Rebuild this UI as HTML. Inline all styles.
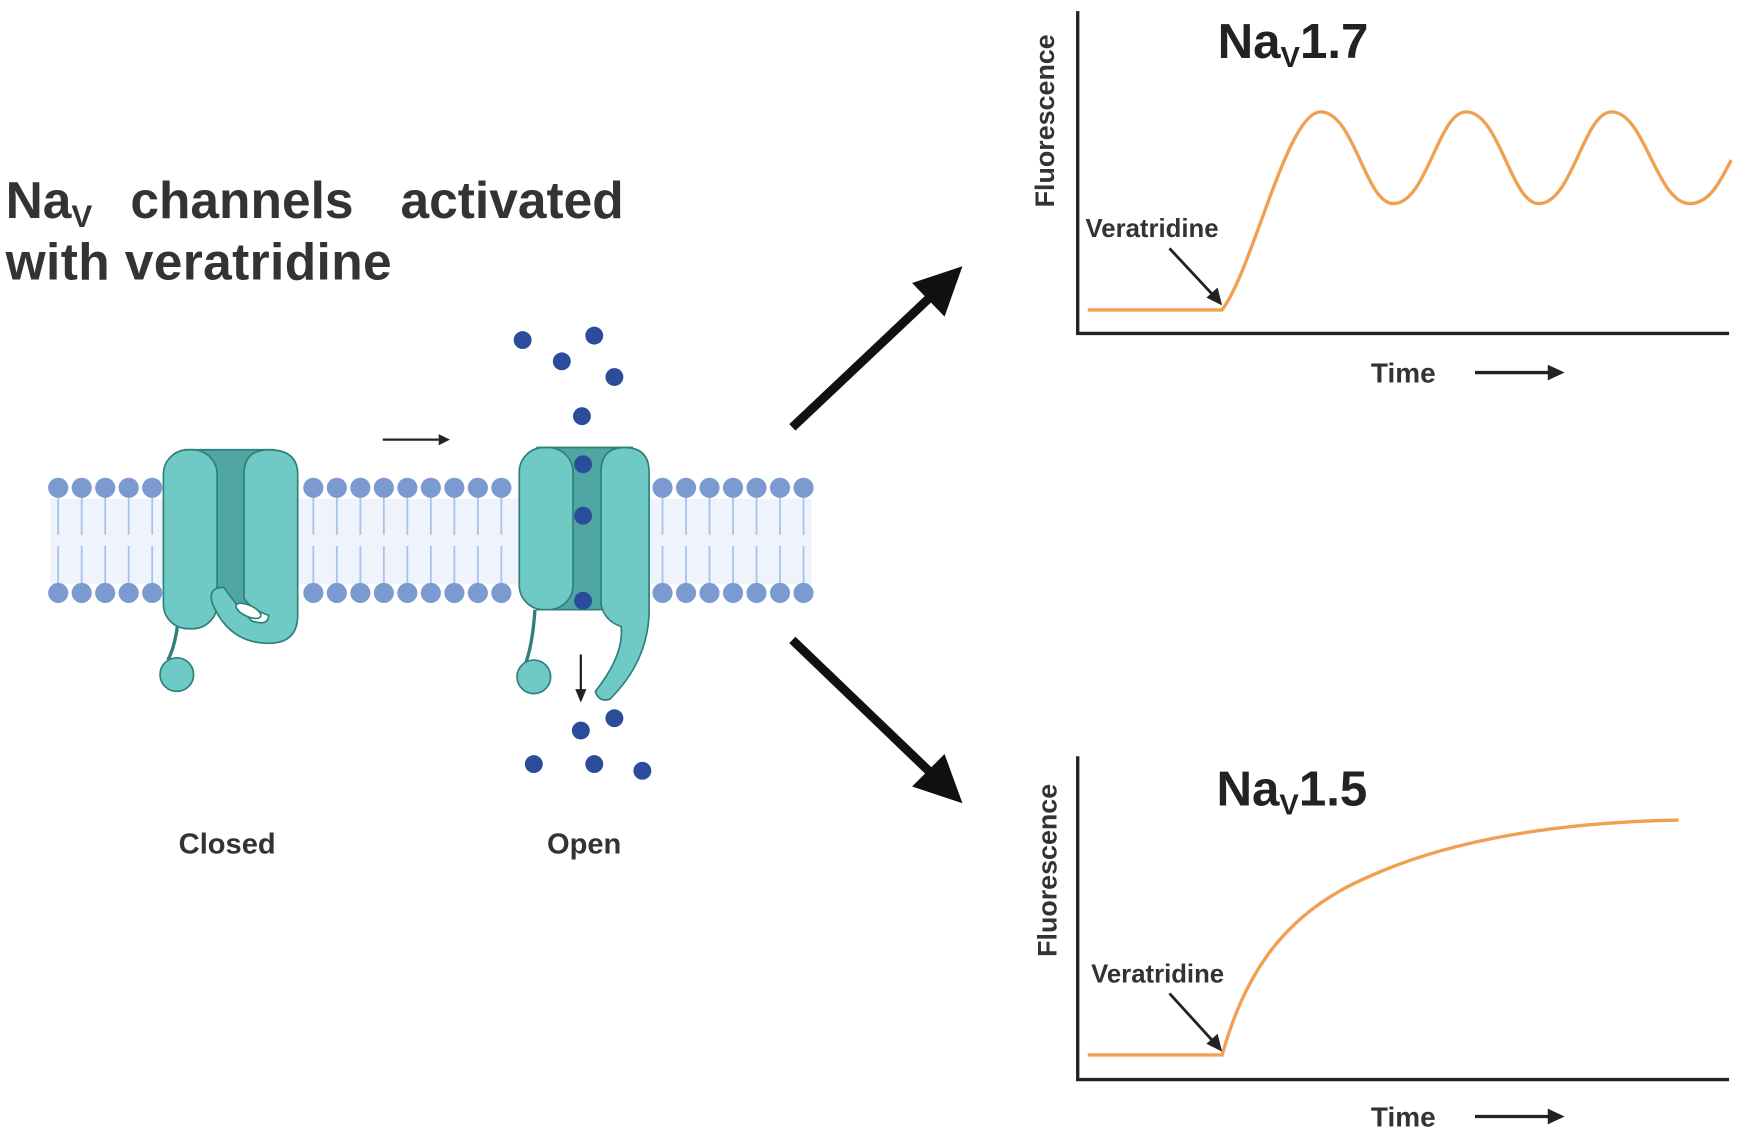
<!DOCTYPE html>
<html><head><style>html,body{margin:0;padding:0;background:#fff}svg{display:block}</style></head><body>
<svg width="1738" height="1140" viewBox="0 0 1553 1019" preserveAspectRatio="none" xmlns="http://www.w3.org/2000/svg" font-family="Liberation Sans, sans-serif" font-weight="bold">
<rect width="1553" height="1019" fill="#fff"/>
<text x="5" y="195" font-size="46" fill="#333">Na<tspan font-size="28" dy="8">V</tspan><tspan dy="-8" dx="34">channels</tspan><tspan dx="42">activated</tspan></text>
<text x="5" y="250" font-size="46" fill="#333" textLength="345">with veratridine</text>
<g id="mem">
<rect x="45" y="446" width="680" height="76" fill="#eef3fc"/>
<g stroke="#a9c2ec" stroke-width="1.6">
<path d="M52 444 V478 M73 444 V478 M94 444 V478 M115 444 V478 M136 444 V478 M52 488 V522 M73 488 V522 M94 488 V522 M115 488 V522 M136 488 V522"/>
<path d="M280 444 V478 M301 444 V478 M322 444 V478 M343 444 V478 M364 444 V478 M385 444 V478 M406 444 V478 M427 444 V478 M448 444 V478 M280 488 V522 M301 488 V522 M322 488 V522 M343 488 V522 M364 488 V522 M385 488 V522 M406 488 V522 M427 488 V522 M448 488 V522"/>
<path d="M592 444 V478 M613 444 V478 M634 444 V478 M655 444 V478 M676 444 V478 M697 444 V478 M718 444 V478 M592 488 V522 M613 488 V522 M634 488 V522 M655 488 V522 M676 488 V522 M697 488 V522 M718 488 V522"/>
</g>
<g fill="#7b9bd0">
<circle cx="52" cy="436" r="9"/><circle cx="73" cy="436" r="9"/><circle cx="94" cy="436" r="9"/><circle cx="115" cy="436" r="9"/><circle cx="136" cy="436" r="9"/>
<circle cx="52" cy="530" r="9"/><circle cx="73" cy="530" r="9"/><circle cx="94" cy="530" r="9"/><circle cx="115" cy="530" r="9"/><circle cx="136" cy="530" r="9"/>
<circle cx="280" cy="436" r="9"/><circle cx="301" cy="436" r="9"/><circle cx="322" cy="436" r="9"/><circle cx="343" cy="436" r="9"/><circle cx="364" cy="436" r="9"/><circle cx="385" cy="436" r="9"/><circle cx="406" cy="436" r="9"/><circle cx="427" cy="436" r="9"/><circle cx="448" cy="436" r="9"/>
<circle cx="280" cy="530" r="9"/><circle cx="301" cy="530" r="9"/><circle cx="322" cy="530" r="9"/><circle cx="343" cy="530" r="9"/><circle cx="364" cy="530" r="9"/><circle cx="385" cy="530" r="9"/><circle cx="406" cy="530" r="9"/><circle cx="427" cy="530" r="9"/><circle cx="448" cy="530" r="9"/>
<circle cx="592" cy="436" r="9"/><circle cx="613" cy="436" r="9"/><circle cx="634" cy="436" r="9"/><circle cx="655" cy="436" r="9"/><circle cx="676" cy="436" r="9"/><circle cx="697" cy="436" r="9"/><circle cx="718" cy="436" r="9"/>
<circle cx="592" cy="530" r="9"/><circle cx="613" cy="530" r="9"/><circle cx="634" cy="530" r="9"/><circle cx="655" cy="530" r="9"/><circle cx="676" cy="530" r="9"/><circle cx="697" cy="530" r="9"/><circle cx="718" cy="530" r="9"/>
</g>
</g>
<g stroke="#2f807a" stroke-width="1.5">
<path d="M160 545 Q158 575 150 590" fill="none" stroke-width="3"/>
<circle cx="158" cy="603" r="15" fill="#6fc9c4"/>
<path d="M165 402 H245 V545 H165 Z" fill="#4fa6a2"/>
<rect x="146" y="402" width="48" height="160" rx="22" fill="#6fc9c4"/>
<path d="M218 424 Q218 402 240 402 Q266 402 266 424 V550 Q266 575 240 575 Q205 575 190 540 Q185 525 200 525 Q210 540 225 555 Q240 560 240 550 Q225 545 218 535 Z" fill="#6fc9c4"/>
<ellipse cx="222" cy="546" rx="12" ry="5" fill="#fff" transform="rotate(25 222 546)"/>
</g>
<g stroke="#2f807a" stroke-width="1.5">
<path d="M478 545 Q476 575 470 592" fill="none" stroke-width="3"/>
<circle cx="477" cy="605" r="15" fill="#6fc9c4"/>
<path d="M480 400 H565 V545 H480 Z" fill="#4fa6a2"/>
<rect x="464" y="400" width="48" height="145" rx="22" fill="#6fc9c4"/>
<path d="M537 422 Q537 400 558 400 Q580 400 580 422 V545 Q580 590 545 625 Q535 628 532 618 Q558 585 555 560 Q540 555 537 540 Z" fill="#6fc9c4"/>
</g>
<path d="M342 393 H392" stroke="#222" stroke-width="2"/><path d="M392 388 L402 393 L392 398Z" fill="#222"/>
<path d="M519 585 V618" stroke="#222" stroke-width="2"/><path d="M514 616 L519 628 L524 616Z" fill="#222"/>
<g fill="#2b4c9b">
<circle cx="467" cy="304" r="8"/><circle cx="531" cy="300" r="8"/><circle cx="502" cy="323" r="8"/><circle cx="549" cy="337" r="8"/><circle cx="520" cy="372" r="8"/>
<circle cx="521" cy="415" r="8"/><circle cx="521" cy="461" r="8"/><circle cx="521" cy="537" r="8"/>
<circle cx="549" cy="642" r="8"/><circle cx="519" cy="653" r="8"/><circle cx="477" cy="683" r="8"/><circle cx="531" cy="683" r="8"/><circle cx="574" cy="689" r="8"/>
</g>
<text x="203" y="763" font-size="26" fill="#333" text-anchor="middle">Closed</text>
<text x="522" y="763" font-size="26" fill="#333" text-anchor="middle">Open</text>
<path d="M708 382 L835 262" stroke="#111" stroke-width="8"/><path d="M860 238 L844 283 L815 253Z" fill="#111"/>
<path d="M708 572 L835 694" stroke="#111" stroke-width="8"/><path d="M860 718 L815 703 L844 674Z" fill="#111"/>
<path d="M963 10 V298 H1545" fill="none" stroke="#222" stroke-width="3"/>
<text transform="translate(942 108) rotate(-90)" font-size="24" fill="#333" text-anchor="middle">Fluorescence</text>
<text x="1088" y="52" font-size="44" fill="#222">Na<tspan font-size="26" dy="8">V</tspan><tspan dy="-8">1.7</tspan></text>
<path d="M972 277 H1092 C1120 240 1150 100 1180 100 C1210 100 1220 182 1245 182 C1275 182 1285 100 1310 100 C1340 100 1350 182 1375 182 C1405 182 1415 100 1440 100 C1470 100 1480 182 1510 182 C1530 182 1540 155 1547 143" fill="none" stroke="#f0a050" stroke-width="3"/>
<text x="970" y="212" font-size="23" fill="#333">Veratridine</text>
<path d="M1045 222 L1086 266" stroke="#222" stroke-width="2.5"/><path d="M1092 273 L1078 266 L1088 257Z" fill="#222"/>
<text x="1225" y="342" font-size="25" fill="#333">Time</text>
<path d="M1318 333 H1385" stroke="#222" stroke-width="3"/><path d="M1398 333 L1383 326 L1383 340Z" fill="#222"/>
<path d="M963 676 V965 H1545" fill="none" stroke="#222" stroke-width="3"/>
<text transform="translate(944 778) rotate(-90)" font-size="24" fill="#333" text-anchor="middle">Fluorescence</text>
<text x="1087" y="720" font-size="44" fill="#222">Na<tspan font-size="26" dy="8">V</tspan><tspan dy="-8">1.5</tspan></text>
<path d="M972 943 H1092 C1110 880 1140 820 1220 785 C1300 748 1400 735 1500 733" fill="none" stroke="#f0a050" stroke-width="3"/>
<text x="975" y="878" font-size="23" fill="#333">Veratridine</text>
<path d="M1045 888 L1086 933" stroke="#222" stroke-width="2.5"/><path d="M1092 940 L1078 933 L1088 924Z" fill="#222"/>
<text x="1225" y="1007" font-size="25" fill="#333">Time</text>
<path d="M1318 998 H1385" stroke="#222" stroke-width="3"/><path d="M1398 998 L1383 991 L1383 1005Z" fill="#222"/>
</svg>
</body></html>
